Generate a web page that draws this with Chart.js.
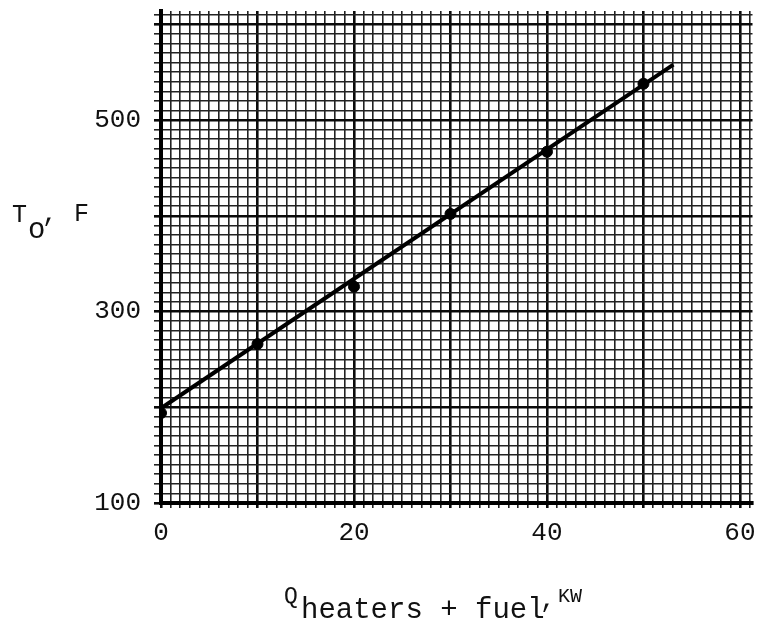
<!DOCTYPE html>
<html>
<head>
<meta charset="utf-8">
<script src="https://cdn.jsdelivr.net/npm/chart.js@4"></script>
<style>
  html, body { margin: 0; padding: 0; background: #fff; }
  canvas { display: block; }
</style>
</head>
<body>
<canvas id="chart" width="759" height="625"></canvas>
<script>
// Mesures : puissance (KW) et température de sortie (F)
const powerKW = [0, 10, 20, 30, 40, 50];
const outletTempF = [194, 266, 326, 402, 467, 538];

// Droite ajustée tracée à travers les points
const fitX = [0, 53.1];
const fitY = [199, 558];

// Étiquettes affichées sur les axes
const xTickLabels = [0, 20, 40, 60];
const yTickLabels = [100, 300, 500];

const FONT = "'Liberation Mono', 'Courier New', monospace";
Chart.defaults.font.family = FONT;
Chart.defaults.color = '#111';

// Quadrillage du papier millimétré : un trait par unité en x, tous les 10 en y
const xGrid = [];
for (let v = 0; v <= 61; v++) xGrid.push(v);
const yGrid = [];
for (let v = 100; v <= 610; v += 10) yGrid.push(v);

function gridWidth(step) {
    return (ctx) => (ctx.tick && ctx.tick.value % step === 0) ? 2.6 : 1.6;
}
function gridColor(step) {
    return (ctx) => (ctx.tick && ctx.tick.value % step === 0) ? '#0a0a0a' : '#222';
}

// Titres des axes avec indices et exposants
const axisTitles = {
    id: 'axisTitles',
    afterDraw(chart) {
        const c = chart.ctx;
        c.save();
        c.fillStyle = '#111';
        c.textBaseline = 'alphabetic';
        c.textAlign = 'left';

        // T_o, F
        c.font = '25px ' + FONT;
        c.fillText('T', 12, 222);
        c.font = '29px ' + FONT;
        c.fillText('o', 28, 238);
        c.font = '26px ' + FONT;
        c.fillText(',', 42, 221);
        c.font = '25px ' + FONT;
        c.fillText('F', 74, 221);

        // Q_heaters + fuel, KW
        c.font = '23px ' + FONT;
        c.fillText('Q', 284, 603);
        c.font = '29px ' + FONT;
        c.fillText('heaters + fuel', 301, 618);
        c.font = '26px ' + FONT;
        c.fillText(',', 540, 607);
        c.font = '20px ' + FONT;
        c.fillText('KW', 558, 602);
        c.restore();
    }
};

new Chart(document.getElementById('chart'), {
    type: 'scatter',
    data: {
        datasets: [
            {
                label: 'Ajustement',
                data: fitX.map((x, i) => ({ x: x, y: fitY[i] })),
                showLine: true,
                borderColor: '#000',
                borderWidth: 4,
                pointRadius: 0,
                order: 2
            },
            {
                label: 'Mesures',
                data: powerKW.map((x, i) => ({ x: x, y: outletTempF[i] })),
                showLine: false,
                backgroundColor: '#000',
                borderColor: '#000',
                pointRadius: 5.5,
                order: 1
            }
        ]
    },
    options: {
        responsive: false,
        animation: false,
        layout: {
            padding: { top: 11, right: 5, left: 0, bottom: 0 }
        },
        plugins: {
            legend: { display: false },
            tooltip: { enabled: false }
        },
        scales: {
            x: {
                type: 'linear',
                min: 0,
                max: 61.3,
                afterBuildTicks: (axis) => { axis.ticks = xGrid.map(v => ({ value: v })); },
                afterFit: (axis) => {
                    axis.height = 122;
                    axis.paddingLeft = 0;
                    axis.paddingRight = 0;
                },
                ticks: {
                    autoSkip: false,
                    maxRotation: 0,
                    padding: 10,
                    font: { size: 26 },
                    color: '#111',
                    callback: (v) => xTickLabels.includes(v) ? String(v) : ''
                },
                grid: {
                    color: gridColor(10),
                    lineWidth: gridWidth(10),
                    tickLength: 5
                },
                border: { display: true, color: '#000', width: 4 }
            },
            y: {
                type: 'linear',
                min: 100,
                max: 614,
                afterBuildTicks: (axis) => { axis.ticks = yGrid.map(v => ({ value: v })); },
                afterFit: (axis) => {
                    axis.width = 161;
                    axis.paddingTop = 0;
                    axis.paddingBottom = 0;
                },
                ticks: {
                    autoSkip: false,
                    padding: 13,
                    font: { size: 26 },
                    color: '#111',
                    callback: (v) => yTickLabels.includes(v) ? String(v) : ''
                },
                grid: {
                    color: gridColor(100),
                    lineWidth: gridWidth(100),
                    tickLength: 7
                },
                border: { display: true, color: '#000', width: 4 }
            }
        }
    },
    plugins: [axisTitles]
});
</script>
</body>
</html>
